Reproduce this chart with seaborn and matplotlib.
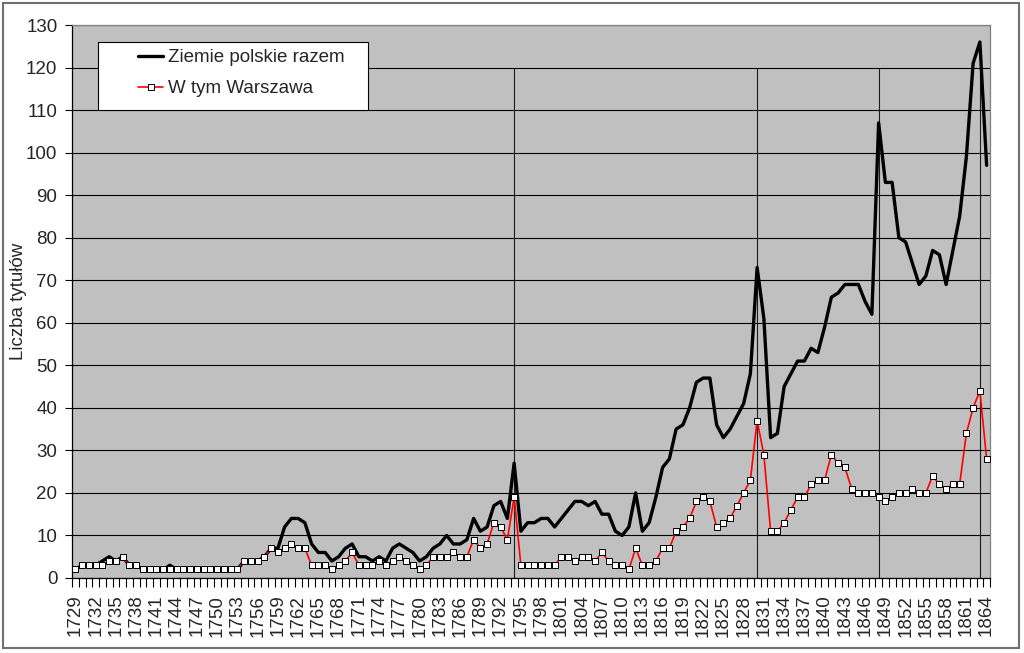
import matplotlib
matplotlib.use("Agg")
import matplotlib.pyplot as plt
from matplotlib.patches import Rectangle
from matplotlib.lines import Line2D
import pandas as pd
import seaborn as sns

# ---------------- data ----------------
years = list(range(1729, 1865))

ziemie = [
    2, 3, 3, 3, 4, 5, 4, 5, 3, 3,          # 1729-1738
    2, 2, 2, 2, 3, 2, 2, 2, 2, 2,          # 1739-1748
    2, 2, 2, 2, 2, 4, 4, 4, 5, 7,          # 1749-1758
    7, 12, 14, 14, 13, 8, 6, 6, 4, 5,      # 1759-1768
    7, 8, 5, 5, 4, 5, 4, 7, 8, 7,          # 1769-1778
    6, 4, 5, 7, 8, 10, 8, 8, 9, 14,        # 1779-1788
    11, 12, 17, 18, 14, 27, 11, 13, 13, 14,  # 1789-1798
    14, 12, 14, 16, 18, 18, 17, 18, 15, 15,  # 1799-1808
    11, 10, 12, 20, 11, 13, 19, 26, 28, 35,  # 1809-1818
    36, 40, 46, 47, 47, 36, 33, 35, 38, 41,  # 1819-1828
    48, 73, 61, 33, 34, 45, 48, 51, 51, 54,  # 1829-1838
    53, 59, 66, 67, 69, 69, 69, 65, 62, 107,  # 1839-1848
    93, 93, 80, 79, 74, 69, 71, 77, 76, 69,  # 1849-1858
    77, 85, 99, 121, 126, 97,               # 1859-1864
]

warszawa = [
    2, 3, 3, 3, 3, 4, 4, 5, 3, 3,          # 1729-1738
    2, 2, 2, 2, 2, 2, 2, 2, 2, 2,          # 1739-1748
    2, 2, 2, 2, 2, 4, 4, 4, 5, 7,          # 1749-1758
    6, 7, 8, 7, 7, 3, 3, 3, 2, 3,          # 1759-1768
    4, 6, 3, 3, 3, 4, 3, 4, 5, 4,          # 1769-1778
    3, 2, 3, 5, 5, 5, 6, 5, 5, 9,          # 1779-1788
    7, 8, 13, 12, 9, 19, 3, 3, 3, 3,       # 1789-1798
    3, 3, 5, 5, 4, 5, 5, 4, 6, 4,          # 1799-1808
    3, 3, 2, 7, 3, 3, 4, 7, 7, 11,         # 1809-1818
    12, 14, 18, 19, 18, 12, 13, 14, 17, 20,  # 1819-1828
    23, 37, 29, 11, 11, 13, 16, 19, 19, 22,  # 1829-1838
    23, 23, 29, 27, 26, 21, 20, 20, 20, 19,  # 1839-1848
    18, 19, 20, 20, 21, 20, 20, 24, 22, 21,  # 1849-1858
    22, 22, 34, 40, 44, 28,                 # 1859-1864
]

events = [1794, 1830, 1848, 1863]
y_ticks = list(range(0, 131, 10))
label_years = years[::3]
series_names = ["Ziemie polskie razem", "W tym Warszawa"]
y_label = "Liczba tytułów"

assert len(ziemie) == len(years) == len(warszawa)

# ---------------- style ----------------
sns.set_style("white")
plt.rcParams['font.family'] = ['Liberation Sans', 'DejaVu Sans']
FS = 13.5

fig = plt.figure(figsize=(10.24, 6.53), dpi=100)
fig.patch.set_facecolor('white')
ax = fig.add_axes([72 / 1024, 1 - 578 / 653, 918 / 1024, 553 / 653])
ax.set_facecolor('#C0C0C0')

df = pd.DataFrame({'Rok': years,
                   series_names[0]: ziemie,
                   series_names[1]: warszawa})

ax.vlines(events, 0, 120, colors='#1a1a1a', lw=0.8, zorder=2)

sns.lineplot(data=df, x='Rok', y=series_names[0], ax=ax, color='black',
             lw=2.4, zorder=3, legend=False)
sns.lineplot(data=df, x='Rok', y=series_names[1], ax=ax, color='#FF0000',
             lw=1.2, marker='s', markersize=4.2, markerfacecolor='white',
             markeredgecolor='black', markeredgewidth=0.7, zorder=4,
             legend=False)

# axes
ax.set_xlim(years[0] - 0.5, years[-1] + 0.5)
ax.set_ylim(y_ticks[0], y_ticks[-1])
ax.set_yticks(y_ticks)
ax.set_yticklabels([str(v) for v in y_ticks], fontsize=FS)
ax.yaxis.grid(True, color='black', lw=0.8)
ax.xaxis.grid(False)
ax.set_axisbelow(True)

ax.set_xticks(label_years)
ax.set_xticklabels([str(y) for y in label_years], rotation=90, fontsize=FS)
ax.set_xticks([y - 0.5 for y in years] + [years[-1] + 0.5], minor=True)
ax.tick_params(axis='x', which='major', length=0, pad=12, bottom=True)
ax.tick_params(axis='x', which='minor', length=6.5, width=0.8,
               color='black', direction='out', bottom=True)
ax.tick_params(axis='y', which='major', length=5, width=0.8, color='black',
               direction='out', pad=5.5, left=True)

ax.set_xlabel('')
ax.set_ylabel(y_label, fontsize=FS)
ax.yaxis.set_label_coords(-0.049, 0.5)

for side in ('left', 'bottom'):
    ax.spines[side].set_color('black')
    ax.spines[side].set_linewidth(0.9)
for side in ('top', 'right'):
    ax.spines[side].set_color('#808080')
    ax.spines[side].set_linewidth(0.9)

# legend
box = Rectangle((26 / 918, 1 - 85 / 553), 270 / 918, 68 / 553,
                transform=ax.transAxes, facecolor='white', edgecolor='black',
                lw=0.8, zorder=5)
ax.add_patch(box)
handles = [
    Line2D([], [], color='black', lw=2.4),
    Line2D([], [], color='#FF0000', lw=1.2, marker='s', markersize=4.2,
           markerfacecolor='white', markeredgecolor='black',
           markeredgewidth=0.7),
]
leg = ax.legend(handles, series_names, loc='upper left',
                bbox_to_anchor=(66 / 918, 1 - 24 / 553), frameon=False,
                borderpad=0, borderaxespad=0, handlelength=1.35,
                handletextpad=0.25, labelspacing=0.75, fontsize=FS)
leg.set_zorder(6)

# outer frame of the chart
fig.patches.append(Rectangle((3 / 1024, 5 / 653), 1016 / 1024, 645 / 653,
                             transform=fig.transFigure, fill=False,
                             edgecolor='#707070', lw=1.5))

fig.savefig('out.png', dpi=100)
